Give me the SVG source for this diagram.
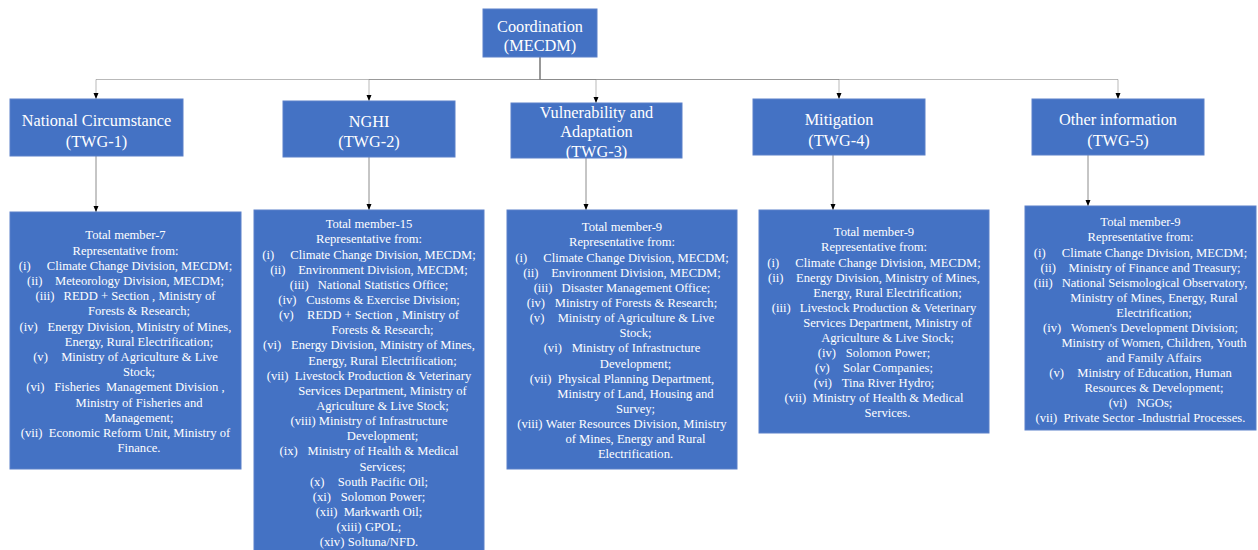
<svg xmlns="http://www.w3.org/2000/svg" width="1258" height="550" viewBox="0 0 1258 550">
<defs>
<style>
.box{fill:#4472C4;stroke:#5b80c9;stroke-width:1}
.h{font-family:"Liberation Serif","Times New Roman",serif;font-size:16.3px;fill:#fff;text-anchor:middle}
.t{font-family:"Liberation Serif","Times New Roman",serif;font-size:12.6px;fill:#fff;text-anchor:middle}
.c{stroke:#7f7f7f;stroke-opacity:0.55;fill:none;stroke-width:1}
.d{stroke:#8c8c8c;fill:none;stroke-width:1}
</style>
<marker id="ah" viewBox="0 0 6 6" refX="6" refY="3" markerWidth="6" markerHeight="6" markerUnits="userSpaceOnUse" orient="auto">
<path d="M0,0.5 L6,3 L0,5.5 z" fill="#000"/>
</marker>
</defs>
<rect width="1258" height="550" fill="#fff"/>

<g id="connectors">
<path class="c" d="M540,57 V79.5 H96 V99" marker-end="url(#ah)"/>
<path class="c" d="M540,57 V79.5 H369 V101" marker-end="url(#ah)"/>
<path class="c" d="M540,57 V79.5 H596 V103" marker-end="url(#ah)"/>
<path class="c" d="M540,57 V79.5 H839 V99" marker-end="url(#ah)"/>
<path class="c" d="M540,57 V79.5 H1118 V99" marker-end="url(#ah)"/>
<path class="d" d="M96,156 V212" marker-end="url(#ah)"/>
<path class="d" d="M369,157 V210" marker-end="url(#ah)"/>
<path class="d" d="M586,158 V210" marker-end="url(#ah)"/>
<path class="d" d="M833,155 V210" marker-end="url(#ah)"/>
<path class="d" d="M1088,155 V206" marker-end="url(#ah)"/>
</g>

<g id="coordination">
<rect class="box" x="483" y="9" width="114" height="48"/>
<text class="h" x="540" y="32">Coordination</text>
<text class="h" x="540" y="51">(MECDM)</text>
</g>

<g id="twg1">
<rect class="box" x="10" y="99" width="173" height="57"/>
<text class="h" x="96.5" y="125.5">National Circumstance</text>
<text class="h" x="96.5" y="146.5">(TWG-1)</text>
</g>

<g id="twg2">
<rect class="box" x="283" y="101" width="172" height="56"/>
<text class="h" x="369" y="126.5">NGHI</text>
<text class="h" x="369" y="146.5">(TWG-2)</text>
</g>

<g id="twg3">
<rect class="box" x="511" y="103" width="171" height="55"/>
<text class="h" x="596.5" y="117.5">Vulnerability and</text>
<text class="h" x="596.5" y="136.5">Adaptation</text>
<text class="h" x="596.5" y="156.5">(TWG-3)</text>
</g>

<g id="twg4">
<rect class="box" x="753" y="99" width="172" height="56"/>
<text class="h" x="839" y="124.5">Mitigation</text>
<text class="h" x="839" y="145.5">(TWG-4)</text>
</g>

<g id="twg5">
<rect class="box" x="1032" y="99" width="172" height="56"/>
<text class="h" x="1118" y="124.5">Other information</text>
<text class="h" x="1118" y="145.5">(TWG-5)</text>
</g>

<g id="members1">
<rect class="box" x="10" y="212" width="231" height="257"/>
<text class="t" x="125.5" y="239.3">Total member-7</text>
<text class="t" x="125.5" y="254.5">Representative from:</text>
<text class="t" x="125.5" y="269.7">(i)<tspan dx="16.1">Climate Change Division, MECDM;</tspan></text>
<text class="t" x="125.5" y="284.9">(ii)<tspan dx="12.6">Meteorology Division, MECDM;</tspan></text>
<text class="t" x="125.5" y="300.1">(iii)<tspan dx="9.1">REDD + Section , Ministry of</tspan></text>
<text class="t" x="139" y="315.3">Forests &amp; Research;</text>
<text class="t" x="125.5" y="330.5">(iv)<tspan dx="9.8">Energy Division, Ministry of Mines,</tspan></text>
<text class="t" x="139" y="345.7">Energy, Rural Electrification;</text>
<text class="t" x="125.5" y="360.9">(v)<tspan dx="13.3">Ministry of Agriculture &amp; Live</tspan></text>
<text class="t" x="139" y="376.1">Stock;</text>
<text class="t" x="125.5" y="391.3">(vi)<tspan dx="9.8">Fisheries&#160; Management Division ,</tspan></text>
<text class="t" x="139" y="406.5">Ministry of Fisheries and</text>
<text class="t" x="139" y="421.7">Management;</text>
<text class="t" x="125.5" y="436.9">(vii)<tspan dx="6.3">Economic Reform Unit, Ministry of</tspan></text>
<text class="t" x="139" y="452.1">Finance.</text>
</g>

<g id="members2">
<rect class="box" x="254" y="210" width="230" height="342"/>
<text class="t" x="369" y="228.3">Total member-15</text>
<text class="t" x="369" y="243.4">Representative from:</text>
<text class="t" x="369" y="258.6">(i)<tspan dx="16.1">Climate Change Division, MECDM;</tspan></text>
<text class="t" x="369" y="273.7">(ii)<tspan dx="12.6">Environment Division, MECDM;</tspan></text>
<text class="t" x="369" y="288.9">(iii)<tspan dx="9.1">National Statistics Office;</tspan></text>
<text class="t" x="369" y="304.0">(iv)<tspan dx="9.8">Customs &amp; Exercise Division;</tspan></text>
<text class="t" x="369" y="319.1">(v)<tspan dx="13.3">REDD + Section , Ministry of</tspan></text>
<text class="t" x="382.5" y="334.3">Forests &amp; Research;</text>
<text class="t" x="369" y="349.4">(vi)<tspan dx="9.8">Energy Division, Ministry of Mines,</tspan></text>
<text class="t" x="382.5" y="364.6">Energy, Rural Electrification;</text>
<text class="t" x="369" y="379.7">(vii)<tspan dx="6.3">Livestock Production &amp; Veterinary</tspan></text>
<text class="t" x="382.5" y="394.8">Services Department, Ministry of</text>
<text class="t" x="382.5" y="410.0">Agriculture &amp; Live Stock;</text>
<text class="t" x="369" y="425.1">(viii)<tspan dx="3.2">Ministry of Infrastructure</tspan></text>
<text class="t" x="382.5" y="440.3">Development;</text>
<text class="t" x="369" y="455.4">(ix)<tspan dx="9.8">Ministry of Health &amp; Medical</tspan></text>
<text class="t" x="382.5" y="470.5">Services;</text>
<text class="t" x="369" y="485.7">(x)<tspan dx="13.3">South Pacific Oil;</tspan></text>
<text class="t" x="369" y="500.8">(xi)<tspan dx="9.8">Solomon Power;</tspan></text>
<text class="t" x="369" y="516.0">(xii)<tspan dx="6.3">Markwarth Oil;</tspan></text>
<text class="t" x="369" y="531.1">(xiii)<tspan dx="3.2">GPOL;</tspan></text>
<text class="t" x="369" y="546.2">(xiv)<tspan dx="3.5">Soltuna/NFD.</tspan></text>
</g>

<g id="members3">
<rect class="box" x="507" y="210" width="230" height="259"/>
<text class="t" x="622" y="231.3">Total member-9</text>
<text class="t" x="622" y="246.4">Representative from:</text>
<text class="t" x="622" y="261.6">(i)<tspan dx="16.1">Climate Change Division, MECDM;</tspan></text>
<text class="t" x="622" y="276.7">(ii)<tspan dx="12.6">Environment Division, MECDM;</tspan></text>
<text class="t" x="622" y="291.8">(iii)<tspan dx="9.1">Disaster Management Office;</tspan></text>
<text class="t" x="622" y="307.0">(iv)<tspan dx="9.8">Ministry of Forests &amp; Research;</tspan></text>
<text class="t" x="622" y="322.1">(v)<tspan dx="13.3">Ministry of Agriculture &amp; Live</tspan></text>
<text class="t" x="635.5" y="337.2">Stock;</text>
<text class="t" x="622" y="352.3">(vi)<tspan dx="9.8">Ministry of Infrastructure</tspan></text>
<text class="t" x="635.5" y="367.5">Development;</text>
<text class="t" x="622" y="382.6">(vii)<tspan dx="6.3">Physical Planning Department,</tspan></text>
<text class="t" x="635.5" y="397.7">Ministry of Land, Housing and</text>
<text class="t" x="635.5" y="412.9">Survey;</text>
<text class="t" x="622" y="428.0">(viii)<tspan dx="3.2">Water Resources Division, Ministry</tspan></text>
<text class="t" x="635.5" y="443.1">of Mines, Energy and Rural</text>
<text class="t" x="635.5" y="458.3">Electrification.</text>
</g>

<g id="members4">
<rect class="box" x="759" y="210" width="230" height="223"/>
<text class="t" x="874" y="236.3">Total member-9</text>
<text class="t" x="874" y="251.4">Representative from:</text>
<text class="t" x="874" y="266.5">(i)<tspan dx="16.1">Climate Change Division, MECDM;</tspan></text>
<text class="t" x="874" y="281.5">(ii)<tspan dx="12.6">Energy Division, Ministry of Mines,</tspan></text>
<text class="t" x="887.5" y="296.6">Energy, Rural Electrification;</text>
<text class="t" x="874" y="311.7">(iii)<tspan dx="9.1">Livestock Production &amp; Veterinary</tspan></text>
<text class="t" x="887.5" y="326.8">Services Department, Ministry of</text>
<text class="t" x="887.5" y="341.9">Agriculture &amp; Live Stock;</text>
<text class="t" x="874" y="356.9">(iv)<tspan dx="9.8">Solomon Power;</tspan></text>
<text class="t" x="874" y="372.0">(v)<tspan dx="13.3">Solar Companies;</tspan></text>
<text class="t" x="874" y="387.1">(vi)<tspan dx="9.8">Tina River Hydro;</tspan></text>
<text class="t" x="874" y="402.2">(vii)<tspan dx="6.3">Ministry of Health &amp; Medical</tspan></text>
<text class="t" x="887.5" y="417.3">Services.</text>
</g>

<g id="members5">
<rect class="box" x="1025" y="206" width="231" height="224"/>
<text class="t" x="1140.5" y="226.3">Total member-9</text>
<text class="t" x="1140.5" y="241.4">Representative from:</text>
<text class="t" x="1140.5" y="256.5">(i)<tspan dx="16.1">Climate Change Division, MECDM;</tspan></text>
<text class="t" x="1140.5" y="271.5">(ii)<tspan dx="12.6">Ministry of Finance and Treasury;</tspan></text>
<text class="t" x="1140.5" y="286.6">(iii)<tspan dx="9.1">National Seismological Observatory,</tspan></text>
<text class="t" x="1154" y="301.7">Ministry of Mines, Energy, Rural</text>
<text class="t" x="1154" y="316.8">Electrification;</text>
<text class="t" x="1140.5" y="331.9">(iv)<tspan dx="9.8">Women's Development Division;</tspan></text>
<text class="t" x="1154" y="346.9">Ministry of Women, Children, Youth</text>
<text class="t" x="1154" y="362.0">and Family Affairs</text>
<text class="t" x="1140.5" y="377.1">(v)<tspan dx="13.3">Ministry of Education, Human</tspan></text>
<text class="t" x="1154" y="392.2">Resources &amp; Development;</text>
<text class="t" x="1140.5" y="407.3">(vi)<tspan dx="9.8">NGOs;</tspan></text>
<text class="t" x="1140.5" y="422.3">(vii)<tspan dx="6.3">Private Sector -Industrial Processes.</tspan></text>
</g>
</svg>
